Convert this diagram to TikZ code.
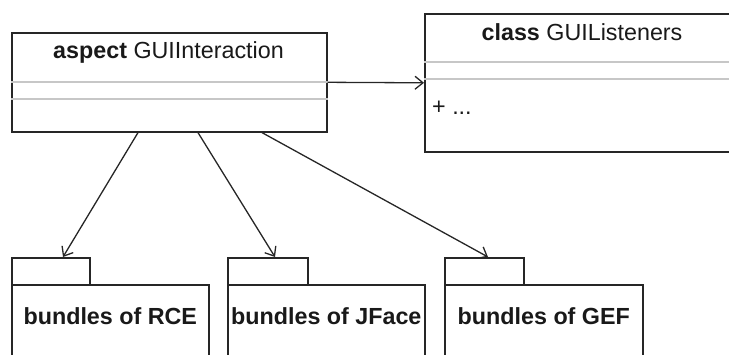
\documentclass[tikz,border=0pt]{standalone}
\usepackage{fontspec}
\setmainfont{Liberation Sans}
\usetikzlibrary{arrows.meta,calc}
\begin{document}
\begin{tikzpicture}[x=1pt,y=-1pt,
  box/.style={draw=black!85, line width=1.6pt, fill=white, inner sep=0pt, anchor=north west},
  sep/.style={draw=black!22, line width=2pt},
  dep/.style={draw=black!85, line width=1.3pt, -{Straight Barb[length=8pt,width=13pt,line width=1.3pt]}},
  lbl/.style={font=\fontsize{23.3}{27}\selectfont, inner sep=0pt, text=black!90},
  plbl/.style={lbl, font=\fontsize{23.3}{27}\selectfont\bfseries}]
\clip (0,0) rectangle (729,354);
% aspect
\node[box, minimum width=315pt, minimum height=99pt] (asp) at (11,32) {};
\node[lbl] (aspt) at (168.5,52) {\textbf{aspect} GUIInteraction};
\draw[sep] ([yshift=-50pt]asp.north west) -- ([yshift=-50pt]asp.north east);
\draw[sep] ([yshift=-67pt]asp.north west) -- ([yshift=-67pt]asp.north east);
% class
\node[box, minimum width=330pt, minimum height=138pt] (cls) at (424,13) {};
\node[lbl] (clst) at (582,32) {\textbf{class} GUIListeners};
\draw[sep] ([yshift=-49pt]cls.north west) -- ([yshift=-49pt]cls.north east);
\draw[sep] ([yshift=-66pt]cls.north west) -- ([yshift=-66pt]cls.north east);
\node[lbl, anchor=west] (clsm) at (432,108) {+ ...};
% packages
\node[box, minimum width=78pt, minimum height=27pt] (t1) at (11,257) {};
\node[box, minimum width=197pt, minimum height=100pt] (p1) at (11,284) {};
\node[plbl] (p1t) at ([yshift=-32pt]p1.north) {bundles of RCE};
\node[box, minimum width=80pt, minimum height=27pt] (t2) at (227,257) {};
\node[box, minimum width=197pt, minimum height=100pt] (p2) at (227,284) {};
\node[plbl] (p2t) at ([yshift=-32pt]p2.north) {bundles of JFace};
\node[box, minimum width=79pt, minimum height=27pt] (t3) at (444,257) {};
\node[box, minimum width=198pt, minimum height=100pt] (p3) at (444,284) {};
\node[plbl] (p3t) at ([yshift=-32pt]p3.north) {bundles of GEF};
% connectors
\draw[dep] (asp.east) -- (cls.west);
\draw[dep] ([xshift=127pt]asp.south west) -- ([xshift=52pt]t1.north west);
\draw[dep] ([xshift=187pt]asp.south west) -- ([xshift=48pt]t2.north west);
\draw[dep] ([xshift=251pt]asp.south west) -- ([xshift=44pt]t3.north west);
\end{tikzpicture}
\end{document}
